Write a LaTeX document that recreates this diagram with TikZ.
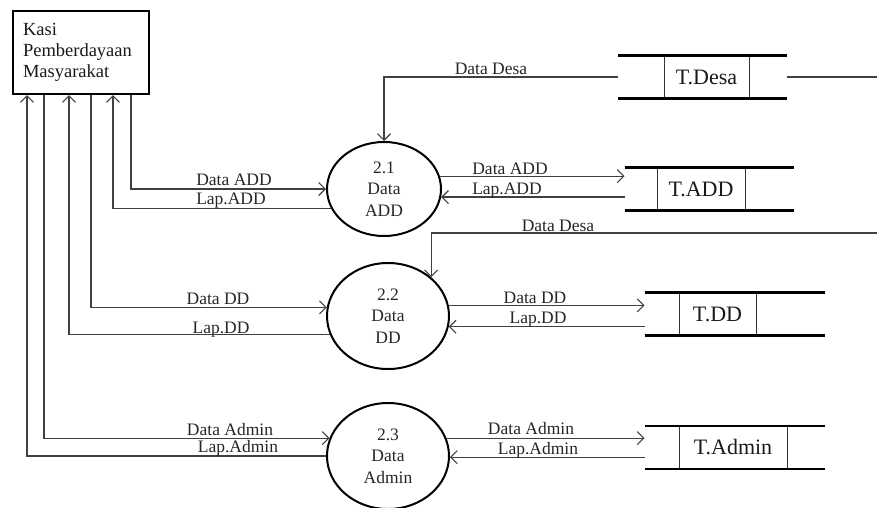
\documentclass[tikz,border=0pt]{standalone}
\usepackage{fontspec}
\setmainfont{Liberation Serif}
\usepackage{tikz}
\usetikzlibrary{arrows.meta}
\usetikzlibrary{shapes.geometric}

\begin{document}
\begin{tikzpicture}[x=1pt, y=-1pt,
        flow/.style={draw=black!75, line width=1.1pt, -{Straight Barb[length=6.5pt,width=13pt]}},
        plain/.style={draw=black!75, line width=1.1pt},
        proc/.style={draw, ellipse, line width=2pt, inner sep=0pt, align=center, font=\fontsize{17.5}{21.5}\selectfont, text=black!85},
        store/.style={draw=black!80, line width=1pt, minimum height=42pt, inner sep=0pt, font=\fontsize{22}{24}\selectfont, text=black!90},
        storeline/.style={line width=2.8pt},
        lbl/.style={anchor=base, inner sep=0pt, font=\fontsize{17.5}{20}\selectfont, text=black!85}]
        \useasboundingbox (0, 0) rectangle (877, 507);
        \node[draw, line width=2pt, anchor=north west, text width=116pt, inner xsep=10pt, minimum height=83pt, align=left, font=\fontsize{18.5}{21}\selectfont, text=black!90] (kasi) at (12, 10) {Kasi\\Pemberdayaan\\Masyarakat};
        \node[proc, minimum width=114pt, minimum height=94pt] (p21) at (384, 189) {2.1\\Data\\ADD};
        \node[proc, minimum width=122pt, minimum height=106pt] (p22) at (388, 316) {2.2\\Data\\DD};
        \node[proc, minimum width=122pt, minimum height=106pt] (p23) at (388, 456) {2.3\\Data\\Admin};
        \node[store, minimum width=85pt] (tdesa) at (706.5, 77) {T.Desa};
        \node[store, minimum width=88pt] (tadd) at (701, 189) {T.ADD};
        \node[store, minimum width=77pt] (tdd) at (717.5, 314) {T.DD};
        \node[store, minimum width=108pt] (tadmin) at (733, 447.5) {T.Admin};
        \draw[storeline] ([xshift=-46pt]tdesa.north west) -- ([xshift=37pt]tdesa.north east);
        \draw[storeline] ([xshift=-46pt]tdesa.south west) -- ([xshift=37pt]tdesa.south east);
        \draw[storeline] ([xshift=-32pt]tadd.north west) -- ([xshift=48pt]tadd.north east);
        \draw[storeline] ([xshift=-32pt]tadd.south west) -- ([xshift=48pt]tadd.south east);
        \draw[storeline] ([xshift=-34pt]tdd.north west) -- ([xshift=68pt]tdd.north east);
        \draw[storeline] ([xshift=-34pt]tdd.south west) -- ([xshift=68pt]tdd.south east);
        \draw[storeline] ([xshift=-34pt]tadmin.north west) -- ([xshift=37pt]tadmin.north east);
        \draw[storeline] ([xshift=-34pt]tadmin.south west) -- ([xshift=37pt]tadmin.south east);
        \coordinate (tdesa-l) at ([xshift=-46pt]tdesa.west);
        \coordinate (tdesa-r) at ([xshift=37pt]tdesa.east);
        \coordinate (tadd-l) at ([xshift=-32pt]tadd.west);
        \coordinate (tdd-l) at ([xshift=-34pt]tdd.west);
        \coordinate (tadmin-l) at ([xshift=-34pt]tadmin.west);
        \coordinate (rim1) at (877, 77);
        \coordinate (rim2) at (877, 233);
        \coordinate (k1) at ([xshift=15pt]kasi.south west);
        \coordinate (k2) at ([xshift=32pt]kasi.south west);
        \coordinate (k3) at ([xshift=57pt]kasi.south west);
        \coordinate (k4) at ([xshift=79pt]kasi.south west);
        \coordinate (k5) at ([xshift=101pt]kasi.south west);
        \coordinate (k6) at ([xshift=119pt]kasi.south west);
        \draw[flow] (k6) |- (p21.west);
        \draw[flow] (p21.200) -| (k5);
        \draw[flow] (k4) |- (p22.172);
        \draw[flow] (p22.198) -| (k3);
        \draw[flow] (k2) |- (p23.163);
        \draw[flow] (p23.west) -| (k1);
        \draw[flow] (p21.13) -- (p21.13 -| tadd-l);
        \draw[flow] (p21.352 -| tadd-l) -- (p21.352);
        \draw[flow] (p22.10) -- (p22.10 -| tdd-l);
        \draw[flow] (p22.350 -| tdd-l) -- (p22.350);
        \draw[flow] (p23.17) -- (p23.17 -| tadmin-l);
        \draw[flow] (p23.359 -| tadmin-l) -- (p23.359);
        \draw[flow] (tdesa-l) -| (p21.north);
        \draw[plain] (tdesa-r) -- (rim1);
        \draw[flow] (rim2) -| (p22.42);
        \node[lbl] (l-desa1) at (491, 74) {Data Desa};
        \node[lbl] (l-add1) at (510, 174) {Data ADD};
        \node[lbl] (l-add2) at (507, 194) {Lap.ADD};
        \node[lbl] (l-desa2) at (558, 231) {Data Desa};
        \node[lbl] (l-dd1) at (535, 303) {Data DD};
        \node[lbl] (l-dd2) at (538, 323) {Lap.DD};
        \node[lbl] (l-adm1) at (531, 434) {Data Admin};
        \node[lbl] (l-adm2) at (538, 454) {Lap.Admin};
        \node[lbl] (l-add3) at (234, 185) {Data ADD};
        \node[lbl] (l-add4) at (231, 204) {Lap.ADD};
        \node[lbl] (l-dd3) at (218, 304) {Data DD};
        \node[lbl] (l-dd4) at (221, 333) {Lap.DD};
        \node[lbl] (l-adm3) at (230, 435) {Data Admin};
        \node[lbl] (l-adm4) at (238, 452) {Lap.Admin};
      \end{tikzpicture}
\end{document}
